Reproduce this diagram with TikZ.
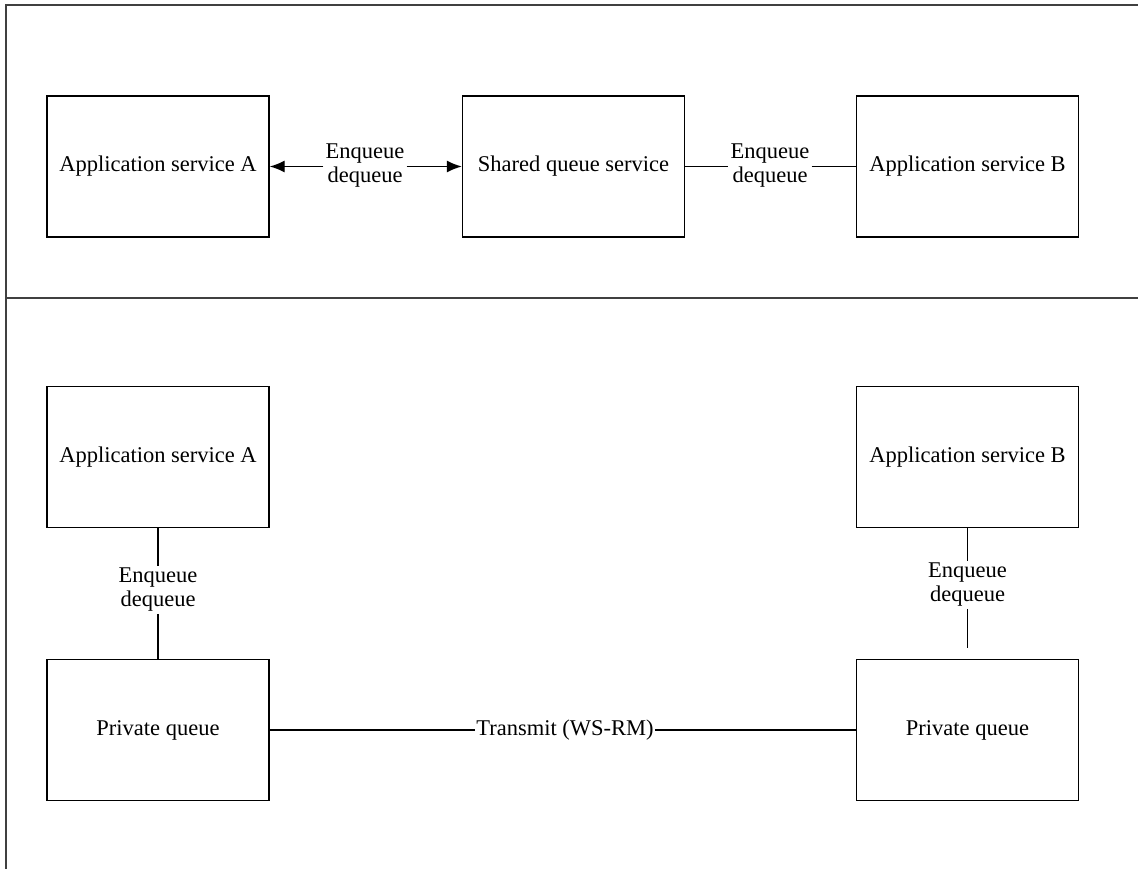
\documentclass[tikz,border=0pt]{standalone}
\usepackage{fontspec}
\setmainfont{Liberation Serif}
\usetikzlibrary{arrows.meta}
\begin{document}
\begin{tikzpicture}[x=1pt,y=-1pt,
  box/.style={draw,line width=1.4pt,minimum width=222pt,minimum height=141pt,font=\fontsize{22.5}{25}\selectfont},
  lbl/.style={font=\fontsize{22.5}{24}\selectfont,align=center,inner sep=2pt,fill=white},
  frame/.style={draw=black!75,line width=1.4pt},
  conn/.style={line width=1.3pt}]
\useasboundingbox (0,0) rectangle (1138,869);
\draw[frame] (1138,5) -- (6,5) -- (6,869);
\draw[frame] (6,298) -- (1138,298);
% top row
\node[box] (a1) at (158,166.5) {Application service A};
\node[box] (sq) at (573.5,166.5) {Shared queue service};
\node[box] (b1) at (967.5,166.5) {Application service B};
\node[lbl] (l1) at (365,166) {Enqueue\\dequeue};
\node[lbl] (l2) at (770,166) {Enqueue\\dequeue};
\draw[conn,-{Latex[length=15pt,width=12pt]}] (l1.west |- a1.east) -- (a1.east);
\draw[conn,-{Latex[length=15pt,width=12pt]}] (l1.east |- sq.west) -- (sq.west);
\draw[conn] (sq.east) -- (l2.west |- sq.east);
\draw[conn] (l2.east |- b1.west) -- (b1.west);
% bottom
\node[box] (a2) at (158,457) {Application service A};
\node[box] (b2) at (967.5,457) {Application service B};
\node[box] (p1) at (158,730) {Private queue};
\node[box] (p2) at (967.5,730) {Private queue};
\node[lbl] (l3) at (158,590) {Enqueue\\dequeue};
\node[lbl] (l4) at (967.5,585) {Enqueue\\dequeue};
\node[lbl,inner sep=1pt] (l5) at (565,730) {Transmit (WS-RM)};
\draw[conn] (a2.south) -- (l3.north);
\draw[conn] (l3.south) -- (p1.north);
\draw[conn] (b2.south) -- (l4.north);
\coordinate (e4) at (967.5,648);
\draw[conn] (l4.south) -- (e4);
\draw[conn] (p1.east) -- (l5.west);
\draw[conn] (l5.east) -- (p2.west);
\end{tikzpicture}
\end{document}
